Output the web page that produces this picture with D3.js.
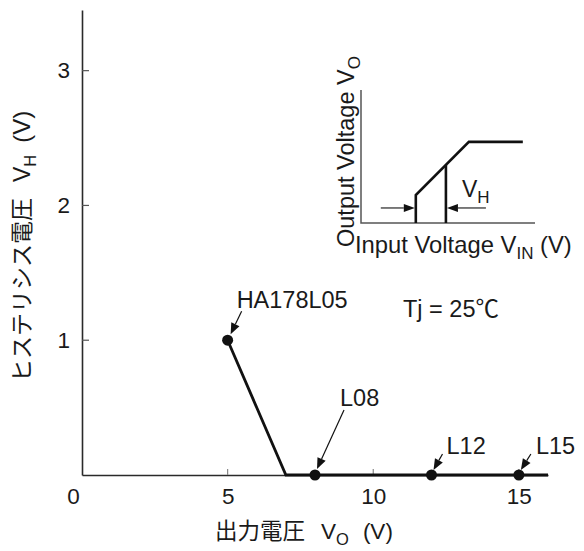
<!DOCTYPE html>
<html><head><meta charset="utf-8">
<script src="https://cdn.jsdelivr.net/npm/d3@7"></script>
<style>
html,body{margin:0;padding:0;background:#fff;}
text{font-family:"Liberation Sans",Arial,"Noto Sans CJK JP",sans-serif;fill:#1a1a1a;}
</style></head>
<body><svg id="c" width="584" height="551"></svg>
<script>
// ---- data ----
const outputVoltage = [5, 7, 8, 12, 15, 16];
const hysteresis    = [1, 0, 0, 0, 0, 0];
const pointVoltage  = [5, 8, 12, 15];
const pointHyst     = [1, 0, 0, 0];
const pointLabels   = ["HA178L05", "L08", "L12", "L15"];
const xTicks = [0, 5, 10, 15];
const yTicks = [1, 2, 3];
// inset schematic (arbitrary units)
const insetIn  = [3.15, 3.15, 6.2, 9.3];
const insetOut = [0, 2.1, 6.1, 6.1];
const insetMarkX = [3.15, 4.88];

const svg = d3.select("#c");
const x = d3.scaleLinear().domain([0, 16]).range([82, 548]);
const y = d3.scaleLinear().domain([0, 3.45]).range([475, 10]);
const axisCol = "#2a2a2a";

// x axis
const xa = svg.append("g").attr("transform", `translate(0,${y(0)})`)
  .call(d3.axisBottom(x).tickValues(xTicks).tickFormat(d3.format("d")).tickSize(0).tickPadding(13).tickSizeOuter(0));
xa.select(".domain").attr("stroke", axisCol).attr("stroke-width", 1.6);
xa.selectAll(".tick text").attr("font-size", 22.5).attr("fill", "#1a1a1a")
  .attr("font-family", "Liberation Sans, Arial, sans-serif")
  .attr("dx", d => d === 0 ? -9 : 0);
svg.append("g").selectAll("line").data(xTicks.filter(d => d > 0)).join("line")
  .attr("x1", d => x(d)).attr("x2", d => x(d))
  .attr("y1", y(0)).attr("y2", y(0) - 6)
  .attr("stroke", "#888").attr("stroke-width", 1.2);

// y axis
const ya = svg.append("g").attr("transform", `translate(${x(0)},0)`)
  .call(d3.axisLeft(y).tickValues(yTicks).tickFormat(d3.format("d")).tickSize(0).tickPadding(12).tickSizeOuter(0));
ya.select(".domain").attr("stroke", axisCol).attr("stroke-width", 1.6);
ya.selectAll(".tick text").attr("font-size", 22.5).attr("fill", "#1a1a1a")
  .attr("font-family", "Liberation Sans, Arial, sans-serif");
svg.append("g").selectAll("line").data(yTicks).join("line")
  .attr("x1", x(0)).attr("x2", x(0) + 7)
  .attr("y1", d => y(d)).attr("y2", d => y(d))
  .attr("stroke", "#555").attr("stroke-width", 1.2);

// data line
const pts = outputVoltage.map((v, i) => [v, hysteresis[i]]);
svg.append("path").datum(pts)
  .attr("d", d3.line().x(d => x(d[0])).y(d => y(d[1])))
  .attr("fill", "none").attr("stroke", "#111").attr("stroke-width", 2.8);

svg.append("g").selectAll("circle").data(pointVoltage).join("circle")
  .attr("cx", d => x(d)).attr("cy", (d, i) => y(pointHyst[i])).attr("r", 5.5).attr("fill", "#111");

function arrow(g, x1, y1, x2, y2, head = 11, w = 4.5, sw = 1.2) {
  const a = Math.atan2(y2 - y1, x2 - x1);
  const bx = x2 - head * Math.cos(a), by = y2 - head * Math.sin(a);
  g.append("line").attr("x1", x1).attr("y1", y1).attr("x2", bx).attr("y2", by)
    .attr("stroke", "#111").attr("stroke-width", sw);
  const px = -Math.sin(a) * w, py = Math.cos(a) * w;
  g.append("path").attr("d", `M${x2},${y2}L${bx + px},${by + py}L${bx - px},${by - py}Z`).attr("fill", "#111");
}

const annLayout = [
  {tx: 9, ty: -32, ax: 14, ay: -29, bx: 3, by: -6},
  {tx: 25, ty: -69, ax: 29, ay: -65, bx: 2, by: -6},
  {tx: 15, ty: -21, ax: 11, ay: -21, bx: 2, by: -5},
  {tx: 17, ty: -21, ax: 12, ay: -21, bx: 2, by: -5}
];
const ann = svg.append("g");
pointVoltage.forEach((v, i) => {
  const px = x(v), py = y(pointHyst[i]), L = annLayout[i];
  ann.append("text").attr("x", px + L.tx).attr("y", py + L.ty).attr("font-size", 23.5).text(pointLabels[i]);
  arrow(ann, px + L.ax, py + L.ay, px + L.bx, py + L.by);
});

svg.append("text").attr("x", 403).attr("y", 317).attr("font-size", 23.5).text("Tj = 25℃");

// axis titles
const xt = svg.append("text").attr("x", 215).attr("y", 539).attr("font-size", 22.5);
xt.append("tspan").text("出力電圧");
xt.append("tspan").attr("dx", 16).text("V");
xt.append("tspan").attr("font-size", 16.5).attr("dy", 6).text("O");
xt.append("tspan").attr("dy", -6).attr("dx", 14).text("(V)");

const yt = svg.append("text").attr("transform", "translate(30,382) rotate(-90)").attr("font-size", 23);
yt.append("tspan").text("ヒステリシス電圧");
yt.append("tspan").attr("dx", 16).text("V");
yt.append("tspan").attr("font-size", 16.5).attr("dy", 6).text("H");
yt.append("tspan").attr("dy", -6).attr("dx", 12).attr("font-size", 24).text("(V)");

// ---- inset ----
const ix = d3.scaleLinear().domain([0, 10]).range([361, 535]);
const iy = d3.scaleLinear().domain([0, 10]).range([223, 90]);
const ins = svg.append("g");
ins.append("path").attr("d", `M${ix(0)},${iy(10)}L${ix(0)},${iy(0)}L${ix(10)},${iy(0)}`)
  .attr("fill", "none").attr("stroke", "#555").attr("stroke-width", 1.5);
ins.append("path").datum(insetIn.map((v, i) => [v, insetOut[i]]))
  .attr("d", d3.line().x(d => ix(d[0])).y(d => iy(d[1])))
  .attr("fill", "none").attr("stroke", "#111").attr("stroke-width", 2.6);
const diag = d3.scaleLinear().domain([insetIn[1], insetIn[2]]).range([insetOut[1], insetOut[2]]);
ins.append("line").attr("x1", ix(insetMarkX[1])).attr("x2", ix(insetMarkX[1]))
  .attr("y1", iy(0)).attr("y2", iy(diag(insetMarkX[1])))
  .attr("stroke", "#111").attr("stroke-width", 2.6);
const ay = iy(1.13);
arrow(ins, ix(insetMarkX[0]) - 35, ay, ix(insetMarkX[0]) - 1, ay, 11, 4, 1.1);
arrow(ins, ix(insetMarkX[1]) + 40, ay, ix(insetMarkX[1]) + 1, ay, 11, 4, 1.1);
const vh = ins.append("text").attr("x", 462).attr("y", 197).attr("font-size", 23);
vh.append("tspan").text("V");
vh.append("tspan").attr("font-size", 17).attr("dy", 6).text("H");

const it = ins.append("text").attr("x", 355).attr("y", 253).attr("font-size", 23.8);
it.append("tspan").text("Input Voltage V");
it.append("tspan").attr("font-size", 17).attr("dy", 6).text("IN");
it.append("tspan").attr("dy", -6).text(" (V)");

const ot = ins.append("text").attr("transform", "translate(354,247) rotate(-90)").attr("font-size", 23.5);
ot.append("tspan").text("Output Voltage V");
ot.append("tspan").attr("font-size", 17).attr("dy", 6).text("O");
</script></body></html>
